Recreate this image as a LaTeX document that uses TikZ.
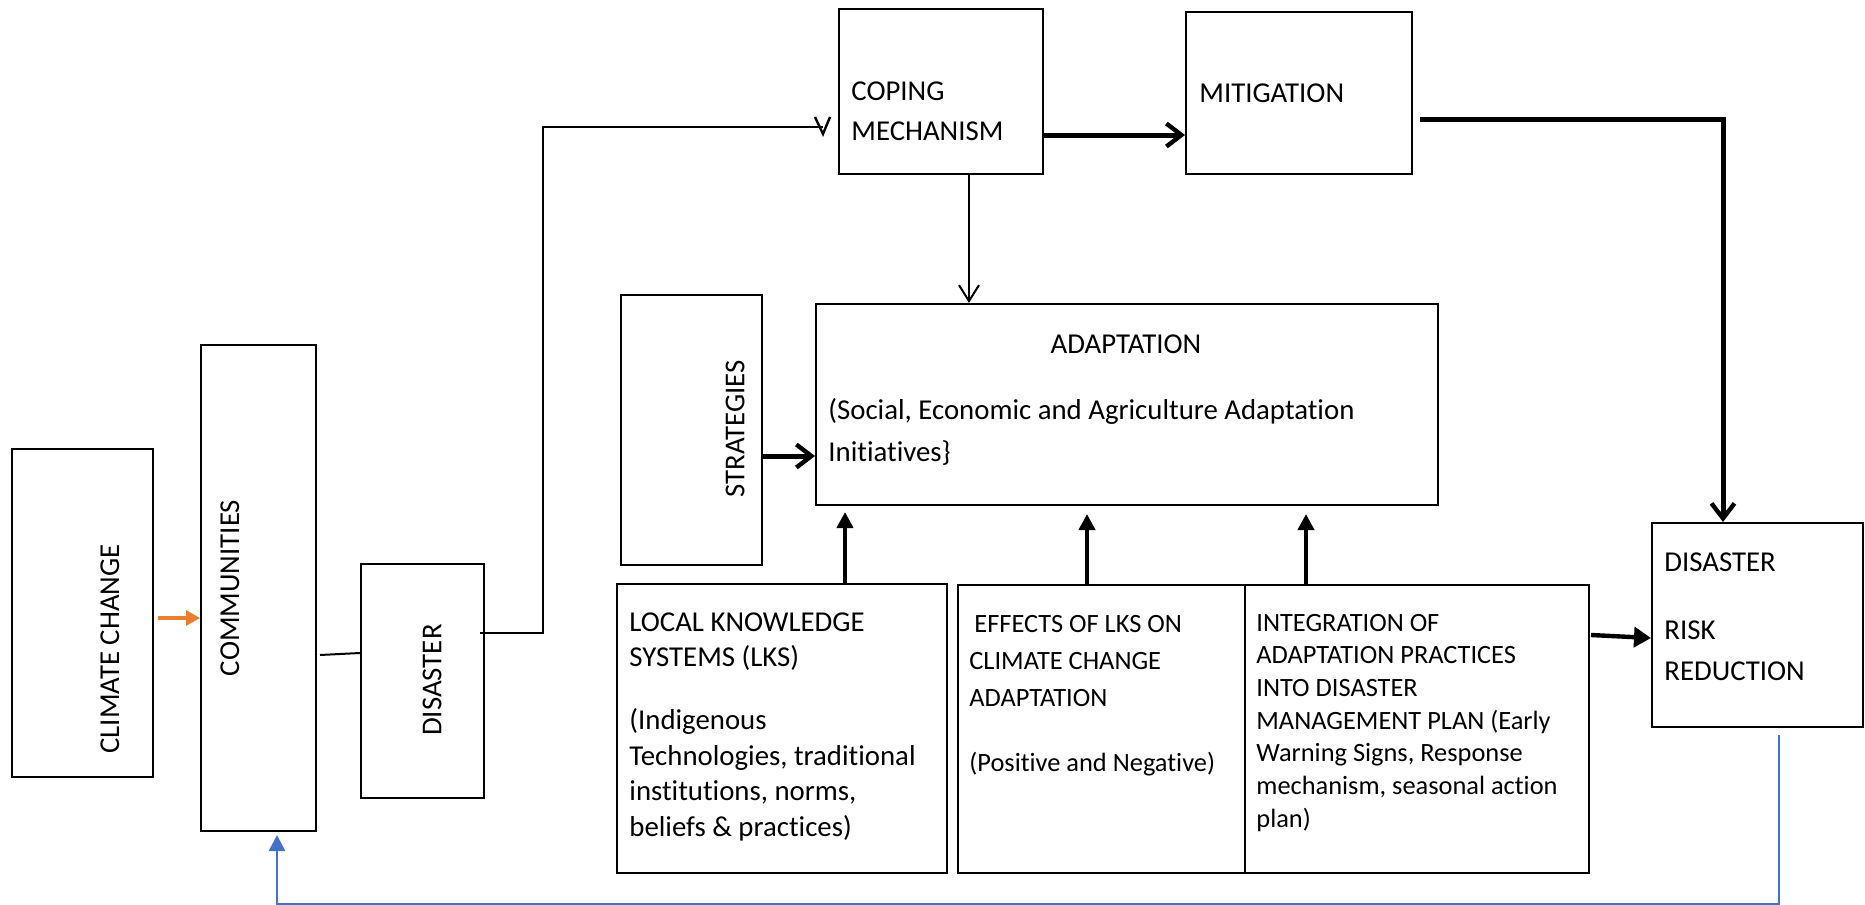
\documentclass[tikz,border=0pt]{standalone}
\usepackage{fontspec}
\setmainfont{Carlito}[Ligatures={NoCommon}]
\usetikzlibrary{arrows.meta}
\definecolor{orng}{HTML}{ED7D31}
\definecolor{blu}{HTML}{4472C4}
\begin{document}
\begin{tikzpicture}[x=0.5pt,y=-0.5pt,
  box/.style={draw, line width=1pt, inner sep=0pt},
  txt/.style={inner sep=0pt, anchor=north west, align=left},
  big/.style={font=\fontsize{14.4}{17.75}\selectfont},
  vtxt/.style={inner sep=0pt, rotate=90, font=\fontsize{14.4}{17.75}\selectfont},
  barb/.style={line width=2.5pt, -{Straight Barb[length=7.5pt,width=11.5pt,line width=2.2pt]}},
  thin/.style={line width=1pt},
  tri/.style={line width=2.3pt, -{Triangle[length=8pt,width=8pt]}}
]
\useasboundingbox (0,0) rectangle (1865,905);
\fill[white] (0,0) rectangle (1865,905);

% boxes
\node[box, minimum width=70.5pt, minimum height=164pt] (cc) at (82.5,613) {};
\node[box, minimum width=57.5pt, minimum height=243pt] (comm) at (258.5,588) {};
\node[box, minimum width=61.5pt, minimum height=117pt] (dis) at (422.5,681) {};
\node[box, minimum width=102pt, minimum height=82.5pt] (cop) at (941,91.5) {};
\node[box, minimum width=113pt, minimum height=81pt] (mit) at (1299,93) {};
\node[box, minimum width=70.5pt, minimum height=135pt] (strat) at (691.5,430) {};
\node[box, minimum width=311pt, minimum height=100.5pt] (adapt) at (1127,404.5) {};
\node[box, minimum width=165pt, minimum height=144.5pt] (lks) at (782,728.5) {};
\node[box, minimum width=143.5pt, minimum height=144pt] (eff) at (1101.5,729) {};
\node[box, minimum width=172pt, minimum height=144pt] (integ) at (1417,729) {};
\node[box, minimum width=105.5pt, minimum height=102pt] (drr) at (1757.5,625) {};

% texts
\node[vtxt] (cct) at (110,649) {CLIMATE CHANGE};
\node[vtxt] (commt) at (230,588) {COMMUNITIES};
\node[vtxt] (dist) at (432,680) {DISASTER};
\node[vtxt] (stratt) at (735,429) {STRATEGIES};
\node[txt, font=\fontsize{14.4}{20}\selectfont] (copt) at (851,81) {COPING\\MECHANISM};
\node[txt, big] (mitt) at (1199,83) {MITIGATION};
\node[txt, big, anchor=north] (adt) at (1126,334) {ADAPTATION};
\node[txt, font=\fontsize{14.4}{21}\selectfont] (adt2) at (828,398) {(Social, Economic and Agriculture Adaptation\\Initiatives\}};
\node[txt, big] (lkst) at (629,612) {LOCAL KNOWLEDGE\\SYSTEMS (LKS)\\[13.75pt](Indigenous\\Technologies, traditional\\institutions, norms,\\beliefs \& practices)};
\node[txt, font=\fontsize{13.2}{18.5}\selectfont] (efft) at (969,614.5) {\hspace*{2.5pt}EFFECTS OF LKS ON\\CLIMATE CHANGE\\ADAPTATION\\[14pt](Positive and Negative)};
\node[txt, font=\fontsize{13.2}{16.35}\selectfont] (intt) at (1256,613.5) {INTEGRATION OF\\ADAPTATION PRACTICES\\INTO DISASTER\\MANAGEMENT PLAN (Early\\Warning Signs, Response\\mechanism, seasonal action\\plan)};
\node[txt, font=\fontsize{14.4}{20.5}\selectfont] (drrt) at (1664,552) {DISASTER\\[13.5pt]RISK\\REDUCTION};

% connectors
\draw[orng, line width=1.6pt, -{Triangle[length=7pt,width=7.5pt]}] ([xshift=2pt]cc.east |- 0,618) -- (comm.west |- 0,618);
\draw[thin] ([xshift=1.5pt]comm.east |- 0,655) -- (dis.west |- 0,653);
\coordinate (v1) at (543,633);
\coordinate (v2) at (543,127);
\coordinate (v3) at (823,127);
\draw[thin] ([xshift=-2.5pt]dis.east |- v1) -- (v1) -- (v2) -- (v3);
\draw[line width=1.2pt] (v3) ++(-8,-10) -- ++(8,17) -- ++(7,-17);
\draw[barb] (cop.east |- 0,135) -- (mit.west |- 0,135);
\draw[thin, -{Straight Barb[length=8pt,width=10pt]}] (cop.south -| 969,0) -- (adapt.north -| 969,0);
\coordinate (m1) at (1723,119);
\draw[barb, line join=miter] ([xshift=3.5pt]mit.east |- m1) -- (m1) -- (drr.north -| m1);
\draw[barb] (strat.east |- 0,456) -- (adapt.west |- 0,456);
\draw[tri] (lks.north -| 845,0) -- ([yshift=-3pt]adapt.south -| 845,0);
\draw[tri] (eff.north -| 1087,0) -- ([yshift=-4pt]adapt.south -| 1087,0);
\draw[tri] (integ.north -| 1306,0) -- ([yshift=-4pt]adapt.south -| 1306,0);
\draw[line width=2.2pt, -{Triangle[length=8.5pt,width=10pt]}] ([xshift=0.5pt]integ.east |- 0,635) -- (drr.west |- 0,638);
\coordinate (b1) at (1779,904.5);
\coordinate (b2) at (277,904.5);
\draw[blu, line width=1.3pt, -{Triangle[length=8pt,width=8pt]}] ([yshift=-3.5pt]drr.south -| b1) -- (b1) -- (b2) -- ([yshift=-1.5pt]comm.south -| b2);
\end{tikzpicture}
\end{document}
